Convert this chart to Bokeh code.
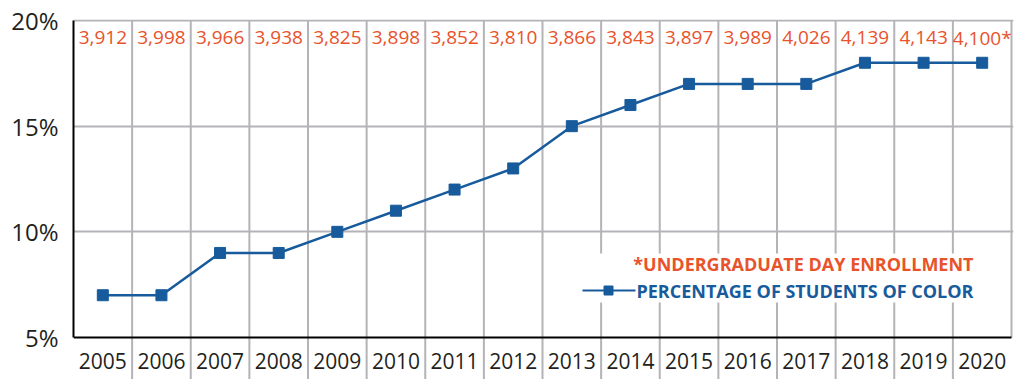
from bokeh.plotting import figure
from bokeh.models import Range1d, FixedTicker, ColumnDataSource
from bokeh.core.properties import value
from bokeh.embed import file_html
from bokeh.resources import INLINE

years = [2005, 2006, 2007, 2008, 2009, 2010, 2011, 2012,
         2013, 2014, 2015, 2016, 2017, 2018, 2019, 2020]
pct_color = [7, 7, 9, 9, 10, 11, 12, 13, 15, 16, 17, 17, 17, 18, 18, 18]
enrollment = [3912, 3998, 3966, 3938, 3825, 3898, 3852, 3810,
              3866, 3843, 3897, 3989, 4026, 4139, 4143, 4100]
y_ticks = [5, 10, 15, 20]
y_tick_labels = ["5%", "10%", "15%", "20%"]
legend_note = "*UNDERGRADUATE DAY ENROLLMENT"
legend_series = "PERCENTAGE OF STUDENTS OF COLOR"

ORANGE = "#E8532B"
BLUE = "#175B9C"
GRID = "#B4B4B8"
INK = "#231F20"
FONT = "Open Sans"

W, H = 1024, 379
left_px, right_px, top_px = 73, 1013, 19
px_per_pct = 317.0 / 15.0          # 20% at y=20, 5% at y=337
y_top = 20 + 1.0 / px_per_pct
y_bot = y_top - (H - top_px) / px_per_pct
x0 = years[0] - 0.5
px_per_year = (1011 - left_px) / 16.0
x1 = years[-1] + 0.5 + 2.0 / px_per_year

p = figure(width=W, height=H, output_backend="svg", toolbar_location=None,
           x_range=Range1d(x0, x1), y_range=Range1d(y_bot, y_top),
           x_axis_type=None, min_border_left=left_px, min_border_right=W - right_px,
           min_border_top=top_px, min_border_bottom=0)
p.outline_line_color = None
p.background_fill_color = "white"
p.border_fill_color = "white"

yax = p.yaxis[0]
yax.ticker = FixedTicker(ticks=y_ticks)
yax.major_label_overrides = {t: l for t, l in zip(y_ticks, y_tick_labels)}
yax.bounds = (y_ticks[0], y_ticks[-1])
yax.axis_line_color = "black"
yax.axis_line_width = 2
yax.major_tick_line_color = None
yax.minor_tick_line_color = None
yax.major_label_standoff = 9
yax.major_label_text_font = FONT
yax.major_label_text_font_size = "24px"
yax.major_label_text_color = INK

p.xgrid.visible = False
p.ygrid.ticker = FixedTicker(ticks=y_ticks[1:])
p.ygrid.grid_line_color = GRID
p.ygrid.grid_line_width = 2


def px_x(px):
    return x0 + (px - left_px) / px_per_year


def px_y(px):
    return 20 - (px - 20) / px_per_pct


# vertical column separators (extend below the axis through the year labels)
bounds = [y + 0.5 for y in years[:-1]]
p.segment(x0=bounds, y0=[y_bot] * len(bounds), x1=bounds, y1=[20] * len(bounds),
          line_color=GRID, line_width=2)
# right border
p.segment(x0=[years[-1] + 0.5], y0=[5], x1=[years[-1] + 0.5], y1=[20],
          line_color=GRID, line_width=2)
# bottom axis line
p.segment(x0=[x0], y0=[5], x1=[years[-1] + 0.5], y1=[5], line_color="black", line_width=2)

# year labels
p.text(x=years, y=[px_y(360)] * len(years), text=[str(y) for y in years],
       text_align="center", text_baseline="middle", text_font=value(FONT),
       text_font_size="21px", text_color=INK)

# enrollment labels
enr_txt = ["{:,}".format(v) for v in enrollment]
enr_txt[-1] = enr_txt[-1] + "*"
p.text(x=years, y=[px_y(37)] * len(years), text=enr_txt,
       text_align="center", text_baseline="middle", text_font=value(FONT),
       text_font_size="19px", text_color=ORANGE)

# legend white box
p.quad(left=[px_x(577)], right=[px_x(982)], top=[px_y(253)], bottom=[px_y(302)],
       fill_color="white", line_color=None)

src = ColumnDataSource(dict(x=years, y=pct_color))
p.line("x", "y", source=src, line_color=BLUE, line_width=2.5)
p.scatter("x", "y", source=src, marker="square", size=11, fill_color=BLUE, line_color=BLUE)

# legend
p.line(x=[px_x(582), px_x(635)], y=[px_y(290)] * 2, line_color=BLUE, line_width=2)
p.scatter(x=[px_x(608)], y=[px_y(290)], marker="square", size=9, fill_color=BLUE, line_color=BLUE)
p.text(x=[px_x(973)], y=[px_y(263)], text=[legend_note], text_align="right",
       text_baseline="middle", text_font=value(FONT), text_font_size="18px",
       text_font_style="bold", text_color=ORANGE)
p.text(x=[px_x(973)], y=[px_y(290)], text=[legend_series], text_align="right",
       text_baseline="middle", text_font=value(FONT), text_font_size="18px",
       text_font_style="bold", text_color=BLUE)

open("out.html", "w").write(file_html(p, INLINE))
